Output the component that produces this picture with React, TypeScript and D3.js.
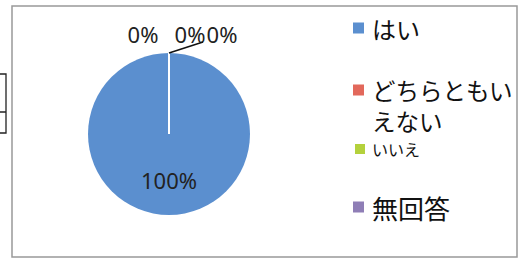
import React from "react";
import * as d3 from "d3";

const categories = ["はい", "どちらともいえない", "いいえ", "無回答"];
const values = [100, 0, 0, 0];
const percentLabels = ["100%", "0%", "0%", "0%"];
const colors = ["#5B8FCF", "#E2685B", "#B4D13C", "#8F7EB6"];
const legendLines = [["はい"], ["どちらともい", "えない"], ["いいえ"], ["無回答"]];

const W = 520;
const H = 261;
const cx = 169;
const cy = 134;
const R = 81;

// legend layout (positions only)
const legendY = [28, 90, 149, 207];
const legendFont = [24, 23.5, 16, 26];
const legendSq = [11, 11, 10, 11];
const legendSqX = [353, 353, 355, 353];
const lineGap = 31;
// small zero-label offsets (Excel style stacking at top)
const zeroLabelDx = [-26, 21, 53];

export default function App() {
  const pie = d3.pie<number>().sort(null).value((d) => d)(values);
  const arc = d3.arc<d3.PieArcDatum<number>>().innerRadius(0).outerRadius(R);
  const labelArc = d3.arc<d3.PieArcDatum<number>>().innerRadius(R * 0.57).outerRadius(R * 0.57);

  const boundaryPt = (a: number, r: number) => [Math.sin(a) * r, -Math.cos(a) * r];

  let zi = 0;
  return (
    <svg
      width={W}
      height={H}
      style={{ position: "absolute", left: 0, top: 0, background: "#fff" }}
      fontFamily="'Noto Sans', sans-serif"
    >
      {/* left bracket fragment */}
      <path d="M0,74 H6 V133 H0 M0,112 H6" fill="none" stroke="#222" strokeWidth={1.3} />
      {/* chart frame */}
      <rect x={12} y={6} width={505} height={251} fill="#fff" stroke="#999" strokeWidth={1.5} />

      <g transform={`translate(${cx},${cy})`}>
        {pie.map((p, i) =>
          p.endAngle - p.startAngle > 0 ? (
            <path key={i} d={arc(p) || ""} fill={colors[i]} />
          ) : null
        )}
        {pie.map((p, i) => {
          const [x, y] = boundaryPt(p.startAngle, R);
          return <line key={"b" + i} x1={0} y1={0} x2={x} y2={y} stroke="#fff" strokeWidth={2} />;
        })}
        {pie.map((p, i) => {
          if (p.endAngle - p.startAngle > 0) {
            const [x, y] = labelArc.centroid(p);
            return (
              <text key={"l" + i} x={x} y={y} textAnchor="middle" dominantBaseline="central" fontSize={22} fill="#222">
                {percentLabels[i]}
              </text>
            );
          }
          const k = zi++;
          const [ox, oy] = boundaryPt(p.startAngle, R);
          return (
            <text key={"l" + i} x={ox + zeroLabelDx[k]} y={oy - 10} textAnchor="middle" fontSize={22} fill="#222">
              {percentLabels[i]}
            </text>
          );
        })}
        {(() => {
          const [ox, oy] = boundaryPt(pie[2].startAngle, R);
          return <line x1={ox} y1={oy} x2={ox + 34} y2={oy - 11} stroke="#111" strokeWidth={1.5} />;
        })()}
      </g>

      <g fontFamily="'Noto Sans CJK JP', sans-serif" fill="#111">
        {categories.map((c, i) => (
          <g key={c}>
            <rect
              x={legendSqX[i]}
              y={legendY[i] - legendSq[i] / 2}
              width={legendSq[i]}
              height={legendSq[i]}
              fill={colors[i]}
            />
            <text x={372} y={legendY[i]} dominantBaseline="central" fontSize={legendFont[i]}>
              {legendLines[i].map((ln, j) => (
                <tspan key={j} x={372} y={legendY[i] + j * lineGap} dominantBaseline="central">
                  {ln}
                </tspan>
              ))}
            </text>
          </g>
        ))}
      </g>
    </svg>
  );
}
